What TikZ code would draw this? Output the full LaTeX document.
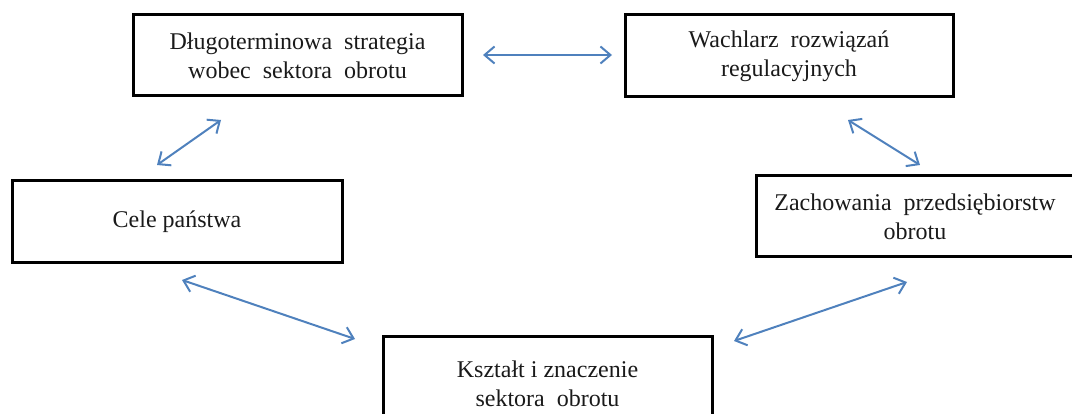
\documentclass[tikz,border=0pt]{standalone}
\usepackage{fontspec}
\setmainfont{Liberation Serif}
\usetikzlibrary{arrows.meta}
\definecolor{arrowblue}{HTML}{4F81BD}
\definecolor{textgray}{HTML}{1A1A1A}
\begin{document}
\begin{tikzpicture}[x=1pt,y=-1pt,
  box/.style={draw=black, line width=3pt, rectangle, inner sep=0pt, align=center,
              text=textgray, font=\fontsize{24}{29}\selectfont},
  link/.style={draw=arrowblue, line width=2pt,
               {Straight Barb[length=10pt,width=17pt]}-{Straight Barb[length=10pt,width=17pt]}}]
\useasboundingbox (0,0) rectangle (1072,414);
\begin{scope}
\clip (0,0) rectangle (1072,414);
\node[box, minimum width=329pt, minimum height=81pt] (strat) at (297.5,55.5)
  {Długoterminowa\ \ strategia\\wobec\ \ sektora\ \ obrotu};
\node[box, minimum width=328pt, minimum height=82pt] (wach) at (789,56)
  {Wachlarz\ \ rozwiązań\\regulacyjnych};
\node[box, minimum width=330pt, minimum height=82pt] (cele) at (177,222)
  {Cele państwa};
\node[box, minimum width=318pt, minimum height=81pt] (zach) at (915,216.5)
  {Zachowania\ \ przedsiębiorstw\\obrotu};
\node[box, minimum width=329pt, minimum height=94pt] (ksz) at (547.5,384)
  {Kształt i znaczenie\\sektora\ \ obrotu};
\end{scope}
\coordinate (a1s) at (483,55);  \coordinate (a1e) at (612,55);
\coordinate (a2s) at (157,165); \coordinate (a2e) at (221,120);
\coordinate (a3s) at (848,120); \coordinate (a3e) at (920,165);
\coordinate (a4s) at (182,280); \coordinate (a4e) at (355,339);
\coordinate (a5s) at (907,282); \coordinate (a5e) at (734,341);
\draw[link] (a1s) -- (a1e);
\draw[link] (a2s) -- (a2e);
\draw[link] (a3s) -- (a3e);
\draw[link] (a4s) -- (a4e);
\draw[link] (a5s) -- (a5e);
\end{tikzpicture}
\end{document}
